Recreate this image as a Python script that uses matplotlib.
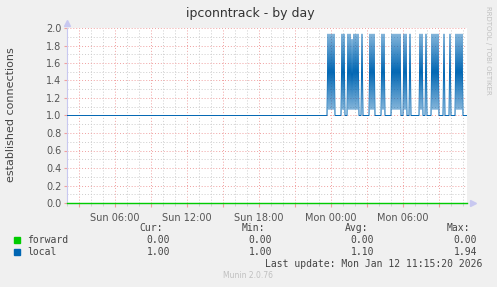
"""
Munin style "ipconntrack - by day" graph, redrawn with matplotlib.
"""

import datetime as dt
import matplotlib
matplotlib.use("Agg")
import matplotlib.pyplot as plt
import matplotlib.dates as mdates
from matplotlib.ticker import MultipleLocator, FuncFormatter

# ── Data ──────────────────────────────────────────────────────────────────────
GRAPH_START = dt.datetime(2026, 1, 11, 2, 0)
BURST_START = dt.datetime(2026, 1, 11, 23, 40)
GRAPH_END   = dt.datetime(2026, 1, 12, 11, 20)
STEP_MIN    = 5

FORWARD_VALUE = 0.00
LOCAL_QUIET   = 1.00

# local connections, one value per 5 min from Sun 23:40 (one row = one hour)
LOCAL_BURST = [
    1.00, 1.93, 1.07, 1.93, 1.07, 1.93, 1.07, 1.93, 1.00, 1.00, 1.00, 1.00,
    1.00, 1.00, 1.00, 1.93, 1.07, 1.93, 1.00, 1.00, 1.00, 1.93, 1.07, 1.93,
    1.07, 1.87, 1.07, 1.93, 1.07, 1.93, 1.07, 1.93, 1.00, 1.00, 1.00, 1.93,
    1.00, 1.00, 1.00, 1.00, 1.00, 1.00, 1.00, 1.93, 1.07, 1.93, 1.07, 1.93,
    1.00, 1.00, 1.00, 1.00, 1.00, 1.00, 1.00, 1.93, 1.07, 1.93, 1.00, 1.00,
    1.00, 1.00, 1.00, 1.00, 1.00, 1.93, 1.07, 1.93, 1.07, 1.93, 1.07, 1.93,
    1.07, 1.93, 1.00, 1.00, 1.00, 1.93, 1.07, 1.93, 1.00, 1.00, 1.00, 1.93,
    1.00, 1.00, 1.00, 1.00, 1.00, 1.00, 1.00, 1.00, 1.00, 1.93, 1.07, 1.93,
    1.00, 1.00, 1.00, 1.93, 1.00, 1.00, 1.00, 1.00, 1.00, 1.93, 1.07, 1.93,
    1.07, 1.93, 1.07, 1.93, 1.00, 1.00, 1.00, 1.00, 1.00, 1.93, 1.00, 1.00,
    1.00, 1.00, 1.00, 1.93, 1.00, 1.00, 1.00, 1.00, 1.00, 1.93, 1.07, 1.93,
    1.07, 1.93, 1.07, 1.93, 1.00, 1.00, 1.00, 1.00, 1.00,
]

SERIES   = ["forward", "local"]
COLORS   = ["#00CC00", "#0066B3"]
CUR_VALS = ["0.00", "1.00"]
MIN_VALS = ["0.00", "1.00"]
AVG_VALS = ["0.00", "1.10"]
MAX_VALS = ["0.00", "1.94"]

TITLE       = "ipconntrack - by day"
YLABEL      = "established connections"
LAST_UPDATE = "Last update: Mon Jan 12 11:15:20 2026"
FOOTER      = "Munin 2.0.76"
SIDE_TEXT   = "RRDTOOL / TOBI OETIKER"

# ── Build series ──────────────────────────────────────────────────────────────
burst_times = [BURST_START + dt.timedelta(minutes=STEP_MIN * i)
               for i in range(len(LOCAL_BURST))]
local_t = [GRAPH_START] + burst_times
local_v = [LOCAL_QUIET] + LOCAL_BURST
fwd_t = [GRAPH_START, GRAPH_END]
fwd_v = [FORWARD_VALUE, FORWARD_VALUE]

# ── Figure ────────────────────────────────────────────────────────────────────
W, H = 497, 287
fig = plt.figure(figsize=(W / 100, H / 100), dpi=100, facecolor="#F0F0F0")


def px(x, y):
    return x / W, 1 - y / H


L, R, T, B = 67, 467, 28, 203
ax = fig.add_axes([L / W, 1 - B / H, (R - L) / W, (B - T) / H])
ax.set_facecolor("white")

ax.plot(fwd_t, fwd_v, color=COLORS[0], lw=1.0, zorder=3, clip_on=False)
ax.plot(local_t, local_v, color=COLORS[1], lw=0.7, zorder=4)

ax.set_xlim(GRAPH_START, GRAPH_END)
ax.set_ylim(0, 2.0)

# grid
ax.xaxis.set_major_locator(mdates.HourLocator(byhour=range(0, 24, 3)))
ax.xaxis.set_minor_locator(mdates.HourLocator())
ax.xaxis.set_major_formatter(FuncFormatter(
    lambda v, p: mdates.num2date(v).strftime("%a %H:%M")
    if mdates.num2date(v).hour % 6 == 0 else ""))
ax.yaxis.set_major_locator(MultipleLocator(0.2))
ax.yaxis.set_minor_locator(MultipleLocator(0.1))
ax.yaxis.set_major_formatter(FuncFormatter(lambda v, p: f"{v:.1f}"))

ax.grid(which="minor", color="#CCCCCC", linestyle=(0, (1, 2)), lw=0.7, zorder=1)
ax.grid(which="major", color="#F0A0A0", linestyle=(0, (1, 2)), lw=0.7, zorder=2)
ax.set_axisbelow(True)

ax.tick_params(axis="both", which="both", labelsize=7, labelcolor="#555555",
               direction="out")
ax.tick_params(axis="x", which="major", length=3, color="#F0A0A0", pad=4)
ax.tick_params(axis="x", which="minor", length=2, color="#CCCCCC")
ax.tick_params(axis="y", which="major", length=2, color="#F0A0A0", pad=2)
ax.tick_params(axis="y", which="minor", length=0)

for s in ["top", "right"]:
    ax.spines[s].set_visible(False)
ax.spines["left"].set_color("#C8C8F0")
ax.spines["bottom"].set_color("#C8C8F0")
ax.spines["left"].set_linewidth(0.8)
ax.spines["bottom"].set_linewidth(0.8)

# axis arrows
ax.plot([0], [1.03], marker="^", ms=4, color="#C8C8F0", transform=ax.transAxes,
        clip_on=False)
ax.plot([1.015], [0], marker=">", ms=4, color="#C8C8F0", transform=ax.transAxes,
        clip_on=False)

# ── Texts ─────────────────────────────────────────────────────────────────────
fig.text(*px(250, 14), TITLE, ha="center", va="center", fontsize=9,
         color="#333333")
fig.text(*px(11, 115), YLABEL, ha="center", va="center", rotation=90,
         fontsize=8, color="#444444")
fig.text(*px(488, 6), SIDE_TEXT, ha="center", va="top", rotation=270,
         fontsize=5, color="#C0C0C0")

mono = dict(family="DejaVu Sans Mono", fontsize=7, color="#444444", va="center")
headers = [("Cur:", 163), ("Min:", 265), ("Avg:", 368), ("Max:", 470)]
for text, x in headers:
    fig.text(*px(x, 228), text, ha="right", **mono)

cols = [(CUR_VALS, 170), (MIN_VALS, 272), (AVG_VALS, 374), (MAX_VALS, 477)]
for i, (name, color) in enumerate(zip(SERIES, COLORS)):
    y = 240 + 12 * i
    fig.patches.append(plt.Rectangle(px(14, y + 3), 6 / W, 6 / H, color=color,
                                     transform=fig.transFigure, figure=fig))
    fig.text(*px(27, y), name, ha="left", **mono)
    for vals, x in cols:
        fig.text(*px(x, y), vals[i], ha="right", **mono)

fig.text(*px(482, 264), LAST_UPDATE, ha="right", **mono)
fig.text(*px(248, 276), FOOTER, ha="center", va="center", fontsize=5.5,
         color="#C0C0C0")

fig.savefig("out.png", dpi=100, facecolor=fig.get_facecolor())
